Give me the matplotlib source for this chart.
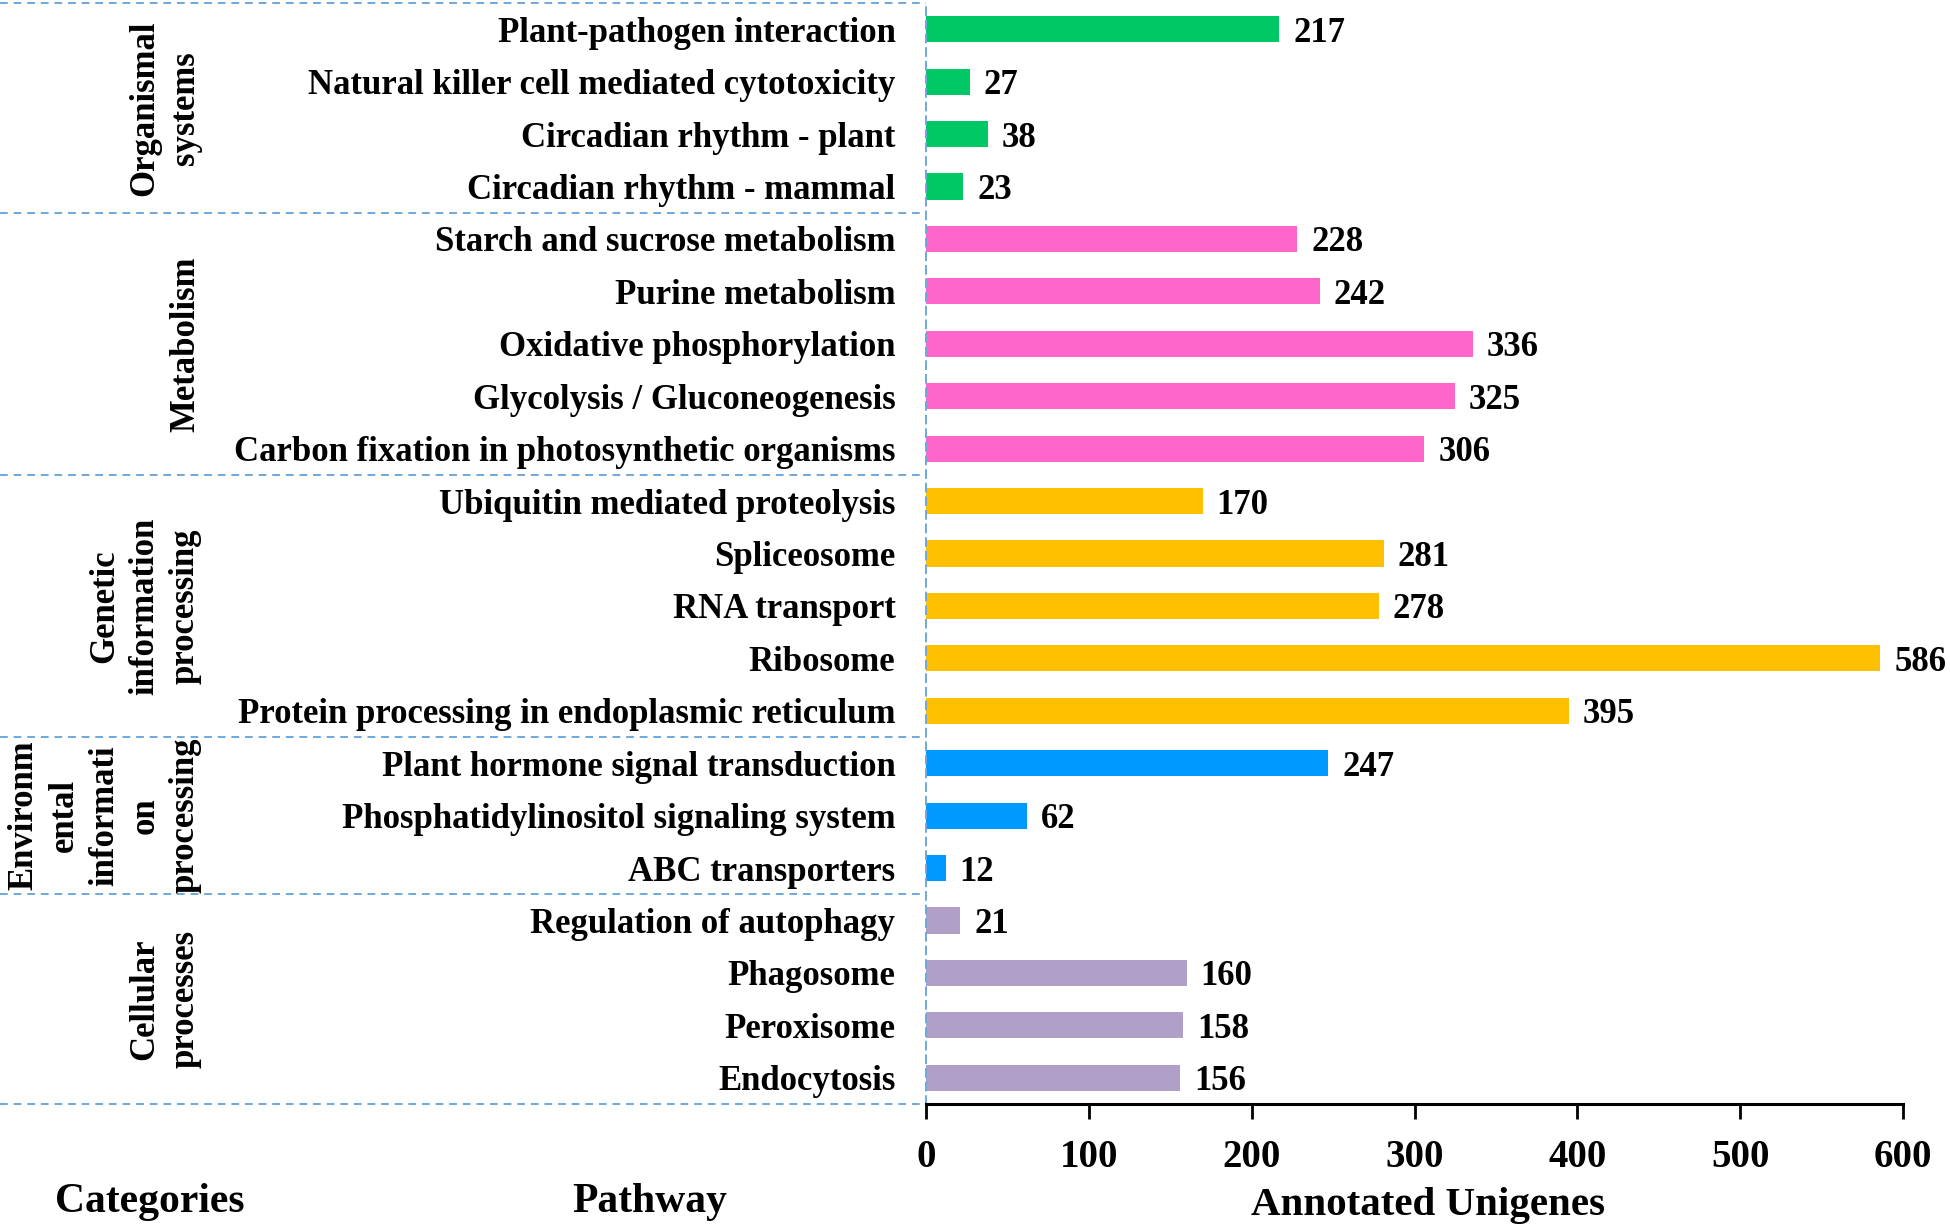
import matplotlib
matplotlib.use("Agg")
import matplotlib.pyplot as plt
import numpy as np

plt.rcParams['font.family'] = ['Liberation Serif', 'DejaVu Serif']
plt.rcParams['font.weight'] = 'bold'

# ---- data (top to bottom) ----
pathways = [
    "Plant-pathogen interaction",
    "Natural killer cell mediated cytotoxicity",
    "Circadian rhythm - plant",
    "Circadian rhythm - mammal",
    "Starch and sucrose metabolism",
    "Purine metabolism",
    "Oxidative phosphorylation",
    "Glycolysis / Gluconeogenesis",
    "Carbon fixation in photosynthetic organisms",
    "Ubiquitin mediated proteolysis",
    "Spliceosome",
    "RNA transport",
    "Ribosome",
    "Protein processing in endoplasmic reticulum",
    "Plant hormone signal transduction",
    "Phosphatidylinositol signaling system",
    "ABC transporters",
    "Regulation of autophagy",
    "Phagosome",
    "Peroxisome",
    "Endocytosis",
]
values = [217, 27, 38, 23, 228, 242, 336, 325, 306, 170, 281, 278, 586, 395,
          247, 62, 12, 21, 160, 158, 156]
categories = ["Organismal\nsystems", "Metabolism", "Genetic\ninformation\nprocessing",
              "Environm\nental\ninformati\non\nprocessing", "Cellular\nprocesses"]
category_sizes = [4, 5, 5, 3, 4]
category_colors = ["#00C864", "#FF66CC", "#FFC000", "#0099FF", "#B0A0C8"]
xticks = [0, 100, 200, 300, 400, 500, 600]

# ---- figure ----
W, H = 1950, 1231
fig = plt.figure(figsize=(W / 100, H / 100), dpi=100)
ax_left, ax_right, ax_top, ax_bottom = 926, 1903, 3, 1104
ax = fig.add_axes([ax_left / W, 1 - ax_bottom / H, (ax_right - ax_left) / W, (ax_bottom - ax_top) / H])

colors = []
for c, n in zip(category_colors, category_sizes):
    colors += [c] * n

y = np.arange(len(pathways))
ax.barh(y, values, height=0.5, color=colors)
ax.set_ylim(len(pathways) - 0.5, -0.5)
ax.set_xlim(0, 600)

ax.set_yticks(y)
ax.set_yticklabels(pathways, fontsize=25, fontweight='bold')
ax.tick_params(axis='y', length=0, pad=22)
ax.set_xticks(xticks)
ax.set_xticklabels([str(t) for t in xticks], fontsize=28, fontweight='bold')
ax.tick_params(axis='x', direction='out', length=11, width=2, pad=14, colors='black')

for yi, v in zip(y, values):
    ax.annotate(str(v), (v, yi), xytext=(10, 0), textcoords='offset points',
                va='center_baseline', ha='left', fontsize=25, fontweight='bold',
                annotation_clip=False)

for s in ['top', 'right']:
    ax.spines[s].set_visible(False)
ax.spines['bottom'].set_linewidth(2.2)
ax.spines['bottom'].set_color('black')
dash_color = '#6FA8DC'
ax.spines['left'].set_color(dash_color)
ax.spines['left'].set_linewidth(1.4)
ax.spines['left'].set_linestyle((0, (4, 3)))

# group separators (dashed, extending to left edge of figure)
bounds = np.concatenate([[0], np.cumsum(category_sizes)]) - 0.5
xfrac = -ax_left / (ax_right - ax_left)
for b in bounds:
    ax.plot([xfrac, 0], [b, b], transform=ax.get_yaxis_transform(), clip_on=False,
            color=dash_color, lw=1.4, ls=(0, (4, 3)))

# category labels
for cat, start, n in zip(categories, bounds[:-1], category_sizes):
    yc = start + n / 2
    ypix = ax.transData.transform((0, yc))[1]
    fig.text(202 / W, ypix / H, cat, rotation=90, ha='right', va='center',
             multialignment='center', fontsize=25, fontweight='bold', linespacing=1.3)

# bottom titles
fig.text(150 / W, 1 - 1202 / H, "Categories", ha='center', va='center', fontsize=30, fontweight='bold')
fig.text(650 / W, 1 - 1202 / H, "Pathway", ha='center', va='center', fontsize=30, fontweight='bold')
fig.text(1428 / W, 1 - 1206 / H, "Annotated Unigenes", ha='center', va='center', fontsize=29.5, fontweight='bold')

fig.savefig("out.png", dpi=100)
